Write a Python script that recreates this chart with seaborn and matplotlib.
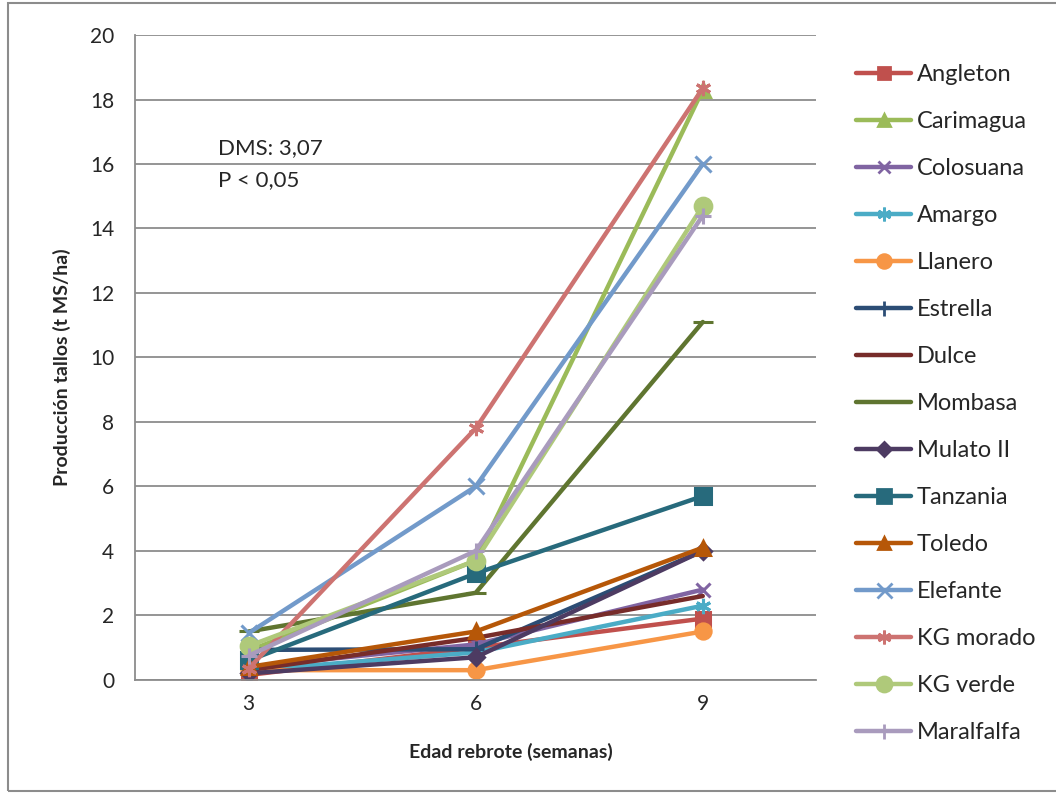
import pandas as pd
import seaborn as sns
import matplotlib.pyplot as plt
from matplotlib.lines import Line2D
from matplotlib.patches import Rectangle

sns.set_style("white")
plt.rcParams['font.family'] = ['Lato', 'DejaVu Sans']

semanas = [3, 6, 9]
variedades = ['Angleton', 'Carimagua', 'Colosuana', 'Amargo', 'Llanero', 'Estrella',
              'Dulce', 'Mombasa', 'Mulato II', 'Tanzania', 'Toledo', 'Elefante',
              'KG morado', 'KG verde', 'Maralfalfa']

angleton = [0.15, 1.0, 1.9]
carimagua = [0.9, 3.7, 18.3]
colosuana = [0.4, 1.1, 2.8]
amargo = [0.3, 0.85, 2.3]
llanero = [0.3, 0.3, 1.5]
estrella = [0.93, 0.95, 4.0]
dulce = [0.3, 1.3, 2.6]
mombasa = [1.5, 2.7, 11.1]
mulato = [0.2, 0.7, 4.0]
tanzania = [0.6, 3.3, 5.7]
toledo = [0.4, 1.5, 4.1]
elefante = [1.45, 6.0, 16.0]
kg_morado = [0.35, 7.8, 18.35]
kg_verde = [1.05, 3.7, 14.7]
maralfalfa = [0.75, 4.0, 14.4]

valores = [angleton, carimagua, colosuana, amargo, llanero, estrella, dulce, mombasa,
           mulato, tanzania, toledo, elefante, kg_morado, kg_verde, maralfalfa]

colores = ['#C0504D', '#9BBB59', '#8064A2', '#4BACC6', '#F79646', '#2C4D75',
           '#772C2A', '#5F7530', '#4D3B62', '#276A7C', '#B65708', '#729ACA',
           '#CD7371', '#AFC97A', '#A99BBD']
marcadores = ['s', '^', 'x', (6, 2, 0), 'o', '+', 'None', '_', 'D', 's', '^', 'x',
              (6, 2, 0), 'o', '+']
tamanos = [10, 10, 10, 11, 11, 12, 0, 14, 8, 11, 10, 12, 11, 12, 12]

filas = []
for nombre, vals in zip(variedades, valores):
    for s, v in zip(semanas, vals):
        filas.append({'variedad': nombre, 'semana': s, 'valor': v})
df = pd.DataFrame(filas)

fig = plt.figure(figsize=(10.56, 7.97), dpi=100)
ax = fig.add_axes([0.128, 0.147, 0.645, 0.809])

handles = []
for nombre, c, m, ms in zip(variedades, colores, marcadores, tamanos):
    sub = df[df['variedad'] == nombre]
    sns.lineplot(data=sub, x='semana', y='valor', ax=ax, color=c, linewidth=3.2,
                 marker=m, markersize=ms, markeredgecolor=c, markerfacecolor=c,
                 markeredgewidth=2.2, legend=False)
    handles.append(Line2D([0], [0], color=c, linewidth=3.2, marker=m,
                          markersize=ms * 0.9, markeredgecolor=c,
                          markerfacecolor=c, markeredgewidth=2.0))

ax.set_xlim(1.5, 10.5)
ax.set_ylim(0, 20)
ax.set_xticks(semanas)
ax.set_yticks(range(0, 21, 2))
ax.yaxis.grid(True, color='#8C8C8C', linewidth=1.3)
ax.set_axisbelow(True)
for sp in ['top', 'right']:
    ax.spines[sp].set_visible(False)
for sp in ['left', 'bottom']:
    ax.spines[sp].set_color('#8C8C8C')
    ax.spines[sp].set_linewidth(1.3)
ax.tick_params(axis='y', direction='out', length=7, width=1.3, color='#8C8C8C',
               labelsize=15, pad=8)
ax.tick_params(axis='x', length=0, labelsize=15, pad=10)

ax.set_xlabel('Edad rebrote (semanas)', fontsize=14, fontweight='bold')
ax.set_ylabel('Producción tallos (t MS/ha)', fontsize=14, fontweight='bold')
ax.xaxis.set_label_coords(0.552, -0.112)
ax.yaxis.set_label_coords(-0.107, 0.485)
ax.xaxis.label.set_va('center')
ax.yaxis.label.set_va('center')

ax.text(0.122, 0.84, 'DMS: 3,07\nP < 0,05', transform=ax.transAxes, fontsize=16,
        va='top', ha='left', linespacing=1.75)

fig.legend(handles, variedades, loc='upper left', bbox_to_anchor=(0.802, 0.931),
           frameon=False, fontsize=17, handlelength=2.3, handletextpad=0.25,
           labelspacing=1.1, borderaxespad=0)

fig.patches.append(Rectangle((8 / 1056, 6 / 797), 1.2, 788 / 797,
                             transform=fig.transFigure, fill=False,
                             edgecolor='#8C8C8C', linewidth=1.5))

fig.savefig('out.png', dpi=100)
